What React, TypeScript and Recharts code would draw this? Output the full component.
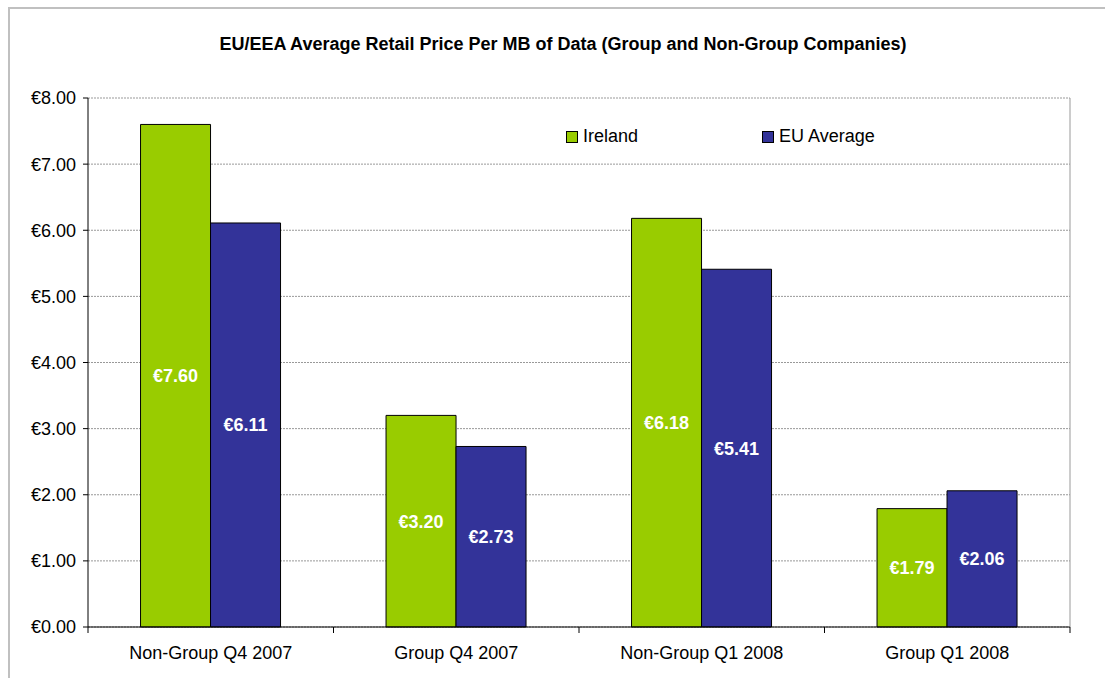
import React from "react";
import {
  BarChart,
  Bar,
  XAxis,
  YAxis,
  CartesianGrid,
  Legend,
  LabelList,
} from "recharts";

const categories = ["Non-Group Q4 2007", "Group Q4 2007", "Non-Group Q1 2008", "Group Q1 2008"];
const ireland = [7.6, 3.2, 6.18, 1.79];
const euAverage = [6.11, 2.73, 5.41, 2.06];
const yTicks = [0, 1, 2, 3, 4, 5, 6, 7, 8];

const GREEN = "#99CC00";
const BLUE = "#333399";
const FONT = "'Liberation Sans', Arial, sans-serif";

const data = categories.map((name, i) => ({
  name,
  ireland: ireland[i],
  eu: euAverage[i],
}));

const euro = (v: number) => "€" + Number(v).toFixed(2);

function CategoryTick(props: any) {
  const { x, y, payload, index, visibleTicksCount } = props;
  const half = payload?.offset ?? 0;
  const last = index === visibleTicksCount - 1;
  return (
    <g>
      <line x1={x - half} x2={x - half} y1={y} y2={y + 6} stroke="#000" />
      {last && <line x1={x + half} x2={x + half} y1={y} y2={y + 6} stroke="#000" />}
      <text x={x} y={y + 32} textAnchor="middle" fill="#000" fontSize={18} fontFamily={FONT}>
        {payload.value}
      </text>
    </g>
  );
}

function LegendBox() {
  const items = [
    { label: "Ireland", color: GREEN },
    { label: "EU Average", color: BLUE },
  ];
  return (
    <div style={{ display: "flex", fontFamily: FONT, fontSize: 18, color: "#000" }}>
      {items.map((it, i) => (
        <div key={it.label} style={{ display: "flex", alignItems: "center", marginRight: i === 0 ? 124 : 0 }}>
          <span
            style={{
              display: "inline-block",
              width: 10,
              height: 10,
              background: it.color,
              border: "1px solid #000",
              marginRight: 5,
            }}
          />
          <span>{it.label}</span>
        </div>
      ))}
    </div>
  );
}

export default function App() {
  return (
    <div style={{ position: "absolute", left: 0, top: 0, width: 1105, height: 678, overflow: "hidden", background: "#fff" }}>
      <div
        style={{
          position: "absolute",
          left: 8,
          top: 7,
          width: 1200,
          height: 800,
          border: "2px solid #c0c0c0",
        }}
      />
      <div
        style={{
          position: "absolute",
          left: 0,
          width: 1126,
          top: 34,
          textAlign: "center",
          fontFamily: FONT,
          fontWeight: "bold",
          fontSize: 18,
          color: "#000",
        }}
      >
        EU/EEA Average Retail Price Per MB of Data (Group and Non-Group Companies)
      </div>
      <div style={{ position: "absolute", left: 0, top: 0 }}>
        <BarChart
          width={1105}
          height={678}
          data={data}
          margin={{ top: 98, right: 34, bottom: 21, left: 0 }}
          barCategoryGap="21.4%"
          barGap={0}
        >
          <CartesianGrid vertical={false} stroke="#999" strokeDasharray="2 1" />
          <XAxis
            dataKey="name"
            axisLine={{ stroke: "#000" }}
            tickLine={false}
            tickSize={0}
            tickMargin={0}
            height={30}
            interval={0}
            tick={<CategoryTick />}
          />
          <YAxis
            width={88}
            domain={[0, 8]}
            ticks={yTicks}
            interval={0}
            tickFormatter={euro}
            axisLine={{ stroke: "#000" }}
            tickLine={{ stroke: "#000" }}
            tickSize={5}
            tickMargin={7}
            tick={{ fill: "#000", fontSize: 18, fontFamily: FONT }}
          />
          <YAxis
            yAxisId="right"
            orientation="right"
            width={1}
            tick={false}
            tickLine={false}
            axisLine={{ stroke: "#999" }}
          />
          <Legend
            verticalAlign="middle"
            layout="horizontal"
            content={() => <LegendBox />}
            wrapperStyle={{ position: "absolute", left: 566, top: 126, width: "auto" }}
          />
          <Bar dataKey="ireland" name="Ireland" fill={GREEN} stroke="#000" strokeWidth={1} isAnimationActive={false}>
            <LabelList
              dataKey="ireland"
              position="center"
              formatter={(v: any) => euro(v)}
              fill="#fff"
              fontWeight="bold"
              fontSize={18}
              fontFamily={FONT}
            />
          </Bar>
          <Bar dataKey="eu" name="EU Average" fill={BLUE} stroke="#000" strokeWidth={1} isAnimationActive={false}>
            <LabelList
              dataKey="eu"
              position="center"
              formatter={(v: any) => euro(v)}
              fill="#fff"
              fontWeight="bold"
              fontSize={18}
              fontFamily={FONT}
            />
          </Bar>
        </BarChart>
      </div>
    </div>
  );
}
